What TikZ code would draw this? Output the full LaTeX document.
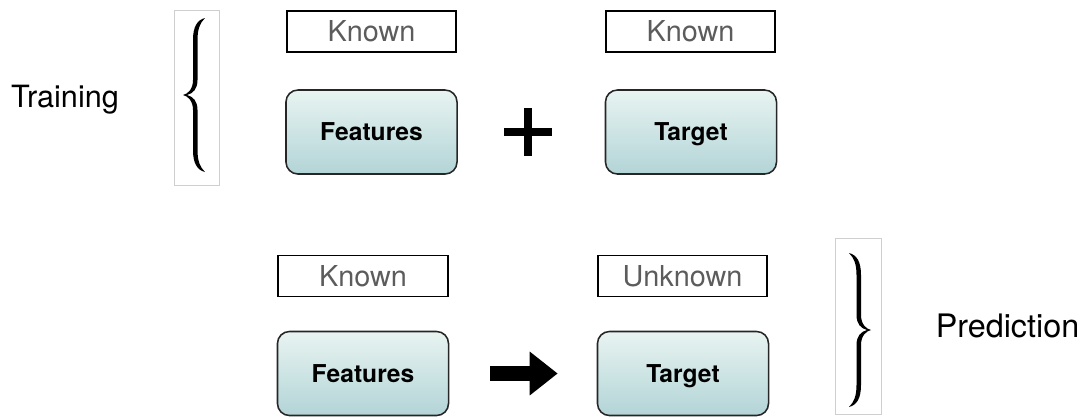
\documentclass[tikz,border=0pt]{standalone}
\usepackage{fontspec}
\setmainfont{TeX Gyre Heros}
\usepackage{tikz}
\usetikzlibrary{arrows.meta}

\definecolor{boxtop}{HTML}{E8F4F1}
\definecolor{boxbot}{HTML}{B3D4D7}
\definecolor{knowngray}{HTML}{5C5C5C}
\definecolor{framegray}{HTML}{CFCFCF}

\tikzset{
  known/.style={draw=black, line width=1.4pt, text=knowngray,
    minimum width=4.225cm, minimum height=1.025cm, inner sep=0pt,
    text height=14.8pt, text depth=0pt,
    font=\fontsize{20.5}{24}\selectfont},
  databox/.style={draw=black!85, line width=1.1pt, rounded corners=0.3cm,
    top color=boxtop, bottom color=boxbot,
    minimum width=4.275cm, minimum height=2.1cm, inner sep=0pt,
    text height=12.6pt, text depth=0pt,
    font=\fontsize{17.5}{21}\selectfont\bfseries},
  bracebox/.style={draw=framegray, line width=0.6pt, inner sep=0pt},
  phase/.style={anchor=base, inner sep=0pt},
  bigarrow/.style={line width=0.375cm, line cap=butt,
    -{Triangle[length=0.7cm, width=1.05cm]}},
  curly/.pic={
    \fill (22,-77) .. controls (14,-75) and (10,-68) .. (10,-55) -- (10,-15)
      .. controls (10,-6) and (5,-1) .. (0,0)
      .. controls (5,1) and (10,6) .. (10,15) -- (10,55)
      .. controls (10,68) and (14,75) .. (22,77)
      .. controls (17,72) and (14.5,66) .. (14.5,55) -- (14.5,15)
      .. controls (14.5,6) and (10,1.5) .. (4,0)
      .. controls (10,-1.5) and (14.5,-6) .. (14.5,-15) -- (14.5,-55)
      .. controls (14.5,-66) and (17,-72) .. (22,-77) -- cycle;
  }
}

\begin{document}
\begin{tikzpicture}[x=0.025cm, y=-0.025cm]
	\useasboundingbox (0,0) rectangle (1083,416);

	% training
	\node[phase, font=\fontsize{21.8}{26}\selectfont] (train) at (65,107) {Training};
	\node[bracebox, minimum width=1.125cm, minimum height=4.375cm] (lbox) at (196.5,97.5) {};
	\pic at (183,95) {curly};

	\node[known] (k1) at (371.5,31.5) {Known};
	\node[databox] (f1) at (371.5,132) {Features};
	\node[known] (k2) at (690.5,31.5) {Known};
	\node[databox] (t1) at (691,132) {Target};

	\coordinate (plus) at (528,132);
	\draw[line width=0.2cm] ([xshift=-0.6cm]plus) -- ([xshift=0.6cm]plus)
		([yshift=-0.6cm]plus) -- ([yshift=0.6cm]plus);

	% prediction
	\node[known] (k3) at (363,276) {Known};
	\node[databox] (f2) at (363,373.5) {Features};
	\node[known] (u1) at (682.5,276) {Unknown};
	\node[databox] (t2) at (683,373.5) {Target};

	\draw[bigarrow, shorten <=1.025cm, shorten >=0.975cm] (f2.east) -- (t2.west);

	\node[bracebox, minimum width=1.15cm, minimum height=4.4cm] (rbox) at (858,326) {};
	\pic[xscale=-1] at (871,330) {curly};
	\node[phase, font=\fontsize{23}{27}\selectfont] (pred) at (1007.5,337) {Prediction};
\end{tikzpicture}
\end{document}
